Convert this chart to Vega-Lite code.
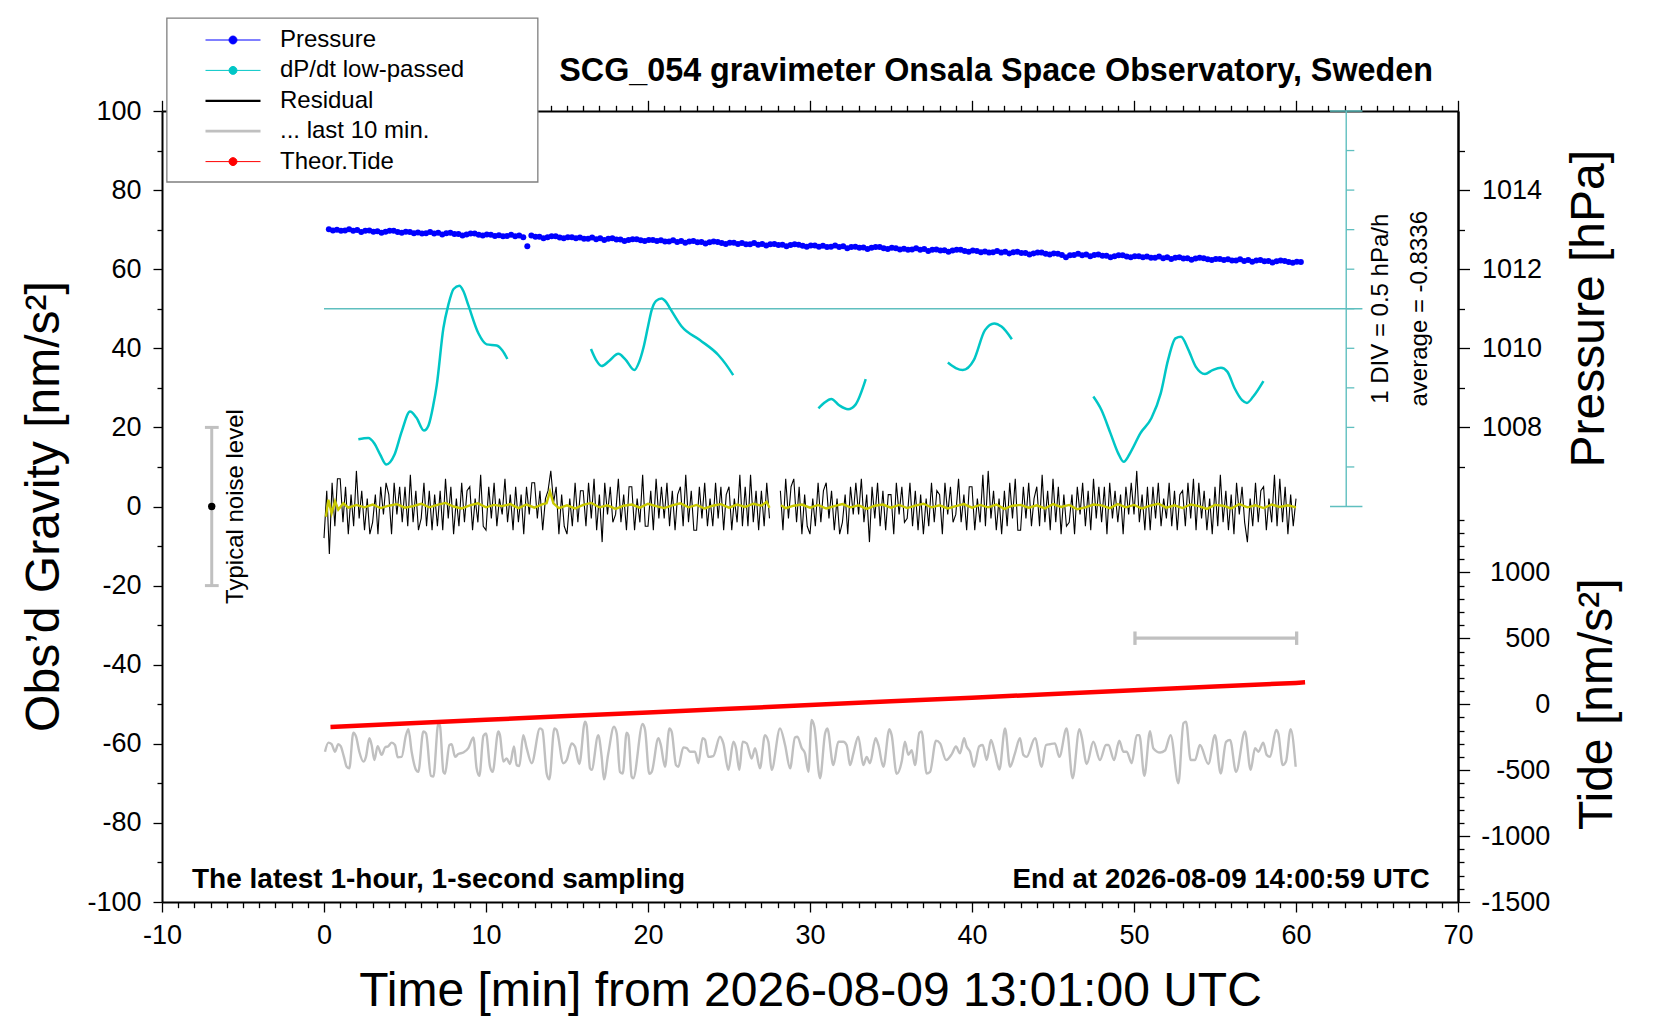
{
  "$schema": "https://vega.github.io/schema/vega-lite/v6.json",
  "width": 1296,
  "height": 791,
  "autosize": {"type": "none"},
  "padding": {"left": 162, "top": 111, "right": 202, "bottom": 118},
  "background": "white",
  "config": {
    "view": {"stroke": null},
    "font": "Liberation Sans",
    "axis": {
      "grid": false,
      "labelFont": "Liberation Sans",
      "labelFontSize": 27,
      "labelColor": "black",
      "titleFont": "Liberation Sans",
      "titleColor": "black",
      "titleFontWeight": "normal",
      "domainColor": "black",
      "domainWidth": 2,
      "tickColor": "black",
      "tickWidth": 1.3,
      "labelOverlap": false,
      "labelFlush": false,
      "labelBound": false
    }
  },
  "datasets": {
    "pressure": [
      {"t":0.3,"p":1013.01},{"t":0.55,"p":1012.98},{"t":0.8,"p":1013.00},{"t":1.05,"p":1012.97},
      {"t":1.3,"p":1012.98},{"t":1.55,"p":1013.01},{"t":1.8,"p":1012.97},{"t":2.05,"p":1012.99},
      {"t":2.3,"p":1012.94},{"t":2.55,"p":1012.97},{"t":2.8,"p":1012.98},{"t":3.05,"p":1012.95},
      {"t":3.3,"p":1012.96},{"t":3.55,"p":1012.92},{"t":3.8,"p":1012.95},{"t":4.05,"p":1012.97},
      {"t":4.3,"p":1012.97},{"t":4.55,"p":1012.94},{"t":4.8,"p":1012.92},{"t":5.05,"p":1012.95},
      {"t":5.3,"p":1012.94},{"t":5.55,"p":1012.91},{"t":5.8,"p":1012.93},{"t":6.05,"p":1012.90},
      {"t":6.3,"p":1012.91},{"t":6.55,"p":1012.94},{"t":6.8,"p":1012.90},{"t":7.05,"p":1012.92},
      {"t":7.3,"p":1012.88},{"t":7.55,"p":1012.91},{"t":7.8,"p":1012.92},{"t":8.05,"p":1012.89},
      {"t":8.3,"p":1012.89},{"t":8.55,"p":1012.85},{"t":8.8,"p":1012.88},{"t":9.05,"p":1012.90},
      {"t":9.3,"p":1012.90},{"t":9.55,"p":1012.87},{"t":9.8,"p":1012.85},{"t":10.05,"p":1012.88},
      {"t":10.3,"p":1012.87},{"t":10.55,"p":1012.84},{"t":10.8,"p":1012.86},{"t":11.05,"p":1012.83},
      {"t":11.3,"p":1012.84},{"t":11.55,"p":1012.87},{"t":11.8,"p":1012.83},{"t":12.05,"p":1012.85},
      {"t":12.3,"p":1012.81},{"t":12.55,"p":1012.58},{"t":12.8,"p":1012.85},{"t":13.05,"p":1012.82},
      {"t":13.3,"p":1012.82},{"t":13.55,"p":1012.78},{"t":13.8,"p":1012.81},{"t":14.05,"p":1012.83},
      {"t":14.3,"p":1012.83},{"t":14.55,"p":1012.80},{"t":14.8,"p":1012.78},{"t":15.05,"p":1012.81},
      {"t":15.3,"p":1012.81},{"t":15.55,"p":1012.78},{"t":15.8,"p":1012.80},{"t":16.05,"p":1012.77},
      {"t":16.3,"p":1012.77},{"t":16.55,"p":1012.80},{"t":16.8,"p":1012.76},{"t":17.05,"p":1012.78},
      {"t":17.3,"p":1012.74},{"t":17.55,"p":1012.77},{"t":17.8,"p":1012.78},{"t":18.05,"p":1012.75},
      {"t":18.3,"p":1012.75},{"t":18.55,"p":1012.71},{"t":18.8,"p":1012.74},{"t":19.05,"p":1012.76},
      {"t":19.3,"p":1012.76},{"t":19.55,"p":1012.73},{"t":19.8,"p":1012.71},{"t":20.05,"p":1012.74},
      {"t":20.3,"p":1012.74},{"t":20.55,"p":1012.71},{"t":20.8,"p":1012.73},{"t":21.05,"p":1012.70},
      {"t":21.3,"p":1012.70},{"t":21.55,"p":1012.73},{"t":21.8,"p":1012.69},{"t":22.05,"p":1012.71},
      {"t":22.3,"p":1012.67},{"t":22.55,"p":1012.70},{"t":22.8,"p":1012.71},{"t":23.05,"p":1012.68},
      {"t":23.3,"p":1012.69},{"t":23.55,"p":1012.65},{"t":23.8,"p":1012.68},{"t":24.05,"p":1012.70},
      {"t":24.3,"p":1012.69},{"t":24.55,"p":1012.66},{"t":24.8,"p":1012.64},{"t":25.05,"p":1012.67},
      {"t":25.3,"p":1012.67},{"t":25.55,"p":1012.64},{"t":25.8,"p":1012.66},{"t":26.05,"p":1012.63},
      {"t":26.3,"p":1012.63},{"t":26.55,"p":1012.66},{"t":26.8,"p":1012.62},{"t":27.05,"p":1012.64},
      {"t":27.3,"p":1012.60},{"t":27.55,"p":1012.63},{"t":27.8,"p":1012.64},{"t":28.05,"p":1012.61},
      {"t":28.3,"p":1012.62},{"t":28.55,"p":1012.58},{"t":28.8,"p":1012.61},{"t":29.05,"p":1012.63},
      {"t":29.3,"p":1012.62},{"t":29.55,"p":1012.59},{"t":29.8,"p":1012.57},{"t":30.05,"p":1012.60},
      {"t":30.3,"p":1012.60},{"t":30.55,"p":1012.57},{"t":30.8,"p":1012.59},{"t":31.05,"p":1012.56},
      {"t":31.3,"p":1012.57},{"t":31.55,"p":1012.60},{"t":31.8,"p":1012.56},{"t":32.05,"p":1012.58},
      {"t":32.3,"p":1012.53},{"t":32.55,"p":1012.56},{"t":32.8,"p":1012.57},{"t":33.05,"p":1012.54},
      {"t":33.3,"p":1012.55},{"t":33.55,"p":1012.51},{"t":33.8,"p":1012.54},{"t":34.05,"p":1012.56},
      {"t":34.3,"p":1012.56},{"t":34.55,"p":1012.53},{"t":34.8,"p":1012.51},{"t":35.05,"p":1012.54},
      {"t":35.3,"p":1012.53},{"t":35.55,"p":1012.50},{"t":35.8,"p":1012.52},{"t":36.05,"p":1012.49},
      {"t":36.3,"p":1012.50},{"t":36.55,"p":1012.53},{"t":36.8,"p":1012.49},{"t":37.05,"p":1012.51},
      {"t":37.3,"p":1012.46},{"t":37.55,"p":1012.49},{"t":37.8,"p":1012.50},{"t":38.05,"p":1012.47},
      {"t":38.3,"p":1012.48},{"t":38.55,"p":1012.44},{"t":38.8,"p":1012.47},{"t":39.05,"p":1012.49},
      {"t":39.3,"p":1012.49},{"t":39.55,"p":1012.46},{"t":39.8,"p":1012.44},{"t":40.05,"p":1012.47},
      {"t":40.3,"p":1012.46},{"t":40.55,"p":1012.43},{"t":40.8,"p":1012.45},{"t":41.05,"p":1012.42},
      {"t":41.3,"p":1012.43},{"t":41.55,"p":1012.46},{"t":41.8,"p":1012.42},{"t":42.05,"p":1012.44},
      {"t":42.3,"p":1012.40},{"t":42.55,"p":1012.43},{"t":42.8,"p":1012.44},{"t":43.05,"p":1012.41},
      {"t":43.3,"p":1012.41},{"t":43.55,"p":1012.37},{"t":43.8,"p":1012.40},{"t":44.05,"p":1012.42},
      {"t":44.3,"p":1012.42},{"t":44.55,"p":1012.39},{"t":44.8,"p":1012.37},{"t":45.05,"p":1012.40},
      {"t":45.3,"p":1012.39},{"t":45.55,"p":1012.36},{"t":45.8,"p":1012.30},{"t":46.05,"p":1012.35},
      {"t":46.3,"p":1012.36},{"t":46.55,"p":1012.39},{"t":46.8,"p":1012.35},{"t":47.05,"p":1012.37},
      {"t":47.3,"p":1012.33},{"t":47.55,"p":1012.36},{"t":47.8,"p":1012.37},{"t":48.05,"p":1012.34},
      {"t":48.3,"p":1012.34},{"t":48.55,"p":1012.30},{"t":48.8,"p":1012.33},{"t":49.05,"p":1012.35},
      {"t":49.3,"p":1012.35},{"t":49.55,"p":1012.32},{"t":49.8,"p":1012.30},{"t":50.05,"p":1012.33},
      {"t":50.3,"p":1012.33},{"t":50.55,"p":1012.30},{"t":50.8,"p":1012.32},{"t":51.05,"p":1012.29},
      {"t":51.3,"p":1012.29},{"t":51.55,"p":1012.32},{"t":51.8,"p":1012.28},{"t":52.05,"p":1012.30},
      {"t":52.3,"p":1012.26},{"t":52.55,"p":1012.29},{"t":52.8,"p":1012.30},{"t":53.05,"p":1012.27},
      {"t":53.3,"p":1012.28},{"t":53.55,"p":1012.24},{"t":53.8,"p":1012.27},{"t":54.05,"p":1012.29},
      {"t":54.3,"p":1012.28},{"t":54.55,"p":1012.25},{"t":54.8,"p":1012.23},{"t":55.05,"p":1012.26},
      {"t":55.3,"p":1012.26},{"t":55.55,"p":1012.23},{"t":55.8,"p":1012.25},{"t":56.05,"p":1012.22},
      {"t":56.3,"p":1012.22},{"t":56.55,"p":1012.25},{"t":56.8,"p":1012.21},{"t":57.05,"p":1012.23},
      {"t":57.3,"p":1012.19},{"t":57.55,"p":1012.22},{"t":57.8,"p":1012.23},{"t":58.05,"p":1012.20},
      {"t":58.3,"p":1012.21},{"t":58.55,"p":1012.17},{"t":58.8,"p":1012.20},{"t":59.05,"p":1012.22},
      {"t":59.3,"p":1012.21},{"t":59.55,"p":1012.18},{"t":59.8,"p":1012.16},{"t":60.05,"p":1012.19},
      {"t":60.3,"p":1012.18}
    ],
    "tide": [
      {"t":0.4,"tide":-172},{"t":5,"tide":-146},{"t":10,"tide":-118},{"t":15,"tide":-90},
      {"t":20,"tide":-62},{"t":25,"tide":-34},{"t":30,"tide":-6},{"t":35,"tide":22},
      {"t":40,"tide":50},{"t":45,"tide":78},{"t":50,"tide":106},{"t":55,"tide":134},
      {"t":60,"tide":162},{"t":60.56,"tide":166}
    ],
    "residual": [
      {"t":0,"g":-8,"seg":1},{"t":0.17,"g":4,"seg":1},{"t":0.33,"g":-12,"seg":1},{"t":0.5,"g":6,"seg":1},{"t":0.67,"g":-5,"seg":1},{"t":0.83,"g":7,"seg":1},
      {"t":1,"g":7,"seg":1},{"t":1.17,"g":-4,"seg":1},{"t":1.33,"g":5,"seg":1},{"t":1.5,"g":-7,"seg":1},{"t":1.67,"g":3,"seg":1},{"t":1.83,"g":-5,"seg":1},
      {"t":2,"g":9,"seg":1},{"t":2.17,"g":-3,"seg":1},{"t":2.33,"g":4,"seg":1},{"t":2.5,"g":-6,"seg":1},{"t":2.67,"g":2,"seg":1},{"t":2.83,"g":-7,"seg":1},
      {"t":3,"g":-4,"seg":1},{"t":3.17,"g":3,"seg":1},{"t":3.33,"g":-7,"seg":1},{"t":3.5,"g":5,"seg":1},{"t":3.67,"g":-2,"seg":1},{"t":3.83,"g":6,"seg":1},
      {"t":4,"g":3,"seg":1},{"t":4.17,"g":-7,"seg":1},{"t":4.33,"g":6,"seg":1},{"t":4.5,"g":-2,"seg":1},{"t":4.67,"g":5,"seg":1},{"t":4.83,"g":-4,"seg":1},
      {"t":5,"g":5,"seg":1},{"t":5.17,"g":-5,"seg":1},{"t":5.33,"g":8,"seg":1},{"t":5.5,"g":-4,"seg":1},{"t":5.67,"g":4,"seg":1},{"t":5.83,"g":-6,"seg":1},
      {"t":6,"g":-3,"seg":1},{"t":6.17,"g":6,"seg":1},{"t":6.33,"g":-5,"seg":1},{"t":6.5,"g":4,"seg":1},{"t":6.67,"g":-6,"seg":1},{"t":6.83,"g":3,"seg":1},
      {"t":7,"g":-5,"seg":1},{"t":7.17,"g":4,"seg":1},{"t":7.33,"g":-6,"seg":1},{"t":7.5,"g":7,"seg":1},{"t":7.67,"g":-3,"seg":1},{"t":7.83,"g":5,"seg":1},
      {"t":8,"g":-7,"seg":1},{"t":8.17,"g":2,"seg":1},{"t":8.33,"g":-5,"seg":1},{"t":8.5,"g":6,"seg":1},{"t":8.67,"g":-4,"seg":1},{"t":8.83,"g":4,"seg":1},
      {"t":9,"g":5,"seg":1},{"t":9.17,"g":-6,"seg":1},{"t":9.33,"g":2,"seg":1},{"t":9.5,"g":-4,"seg":1},{"t":9.67,"g":8,"seg":1},{"t":9.83,"g":-5,"seg":1},
      {"t":10,"g":-6,"seg":1},{"t":10.17,"g":5,"seg":1},{"t":10.33,"g":-3,"seg":1},{"t":10.5,"g":6,"seg":1},{"t":10.67,"g":-5,"seg":1},{"t":10.83,"g":2,"seg":1},
      {"t":11,"g":-2,"seg":1},{"t":11.17,"g":7,"seg":1},{"t":11.33,"g":-4,"seg":1},{"t":11.5,"g":3,"seg":1},{"t":11.67,"g":-6,"seg":1},{"t":11.83,"g":5,"seg":1},
      {"t":12,"g":-4,"seg":1},{"t":12.17,"g":3,"seg":1},{"t":12.33,"g":-7,"seg":1},{"t":12.5,"g":5,"seg":1},{"t":12.67,"g":-2,"seg":1},{"t":12.83,"g":6,"seg":1},
      {"t":13,"g":6,"seg":1},{"t":13.17,"g":-3,"seg":1},{"t":13.33,"g":4,"seg":1},{"t":13.5,"g":-6,"seg":1},{"t":13.67,"g":2,"seg":1},{"t":13.83,"g":4,"seg":1},
      {"t":14,"g":9,"seg":1},{"t":14.17,"g":1,"seg":1},{"t":14.33,"g":5,"seg":1},{"t":14.5,"g":-7,"seg":1},{"t":14.67,"g":3,"seg":1},{"t":14.83,"g":-5,"seg":1},
      {"t":15,"g":-7,"seg":1},{"t":15.17,"g":2,"seg":1},{"t":15.33,"g":-5,"seg":1},{"t":15.5,"g":6,"seg":1},{"t":15.67,"g":-4,"seg":1},{"t":15.83,"g":4,"seg":1},
      {"t":16,"g":4,"seg":1},{"t":16.17,"g":-5,"seg":1},{"t":16.33,"g":6,"seg":1},{"t":16.5,"g":-3,"seg":1},{"t":16.67,"g":7,"seg":1},{"t":16.83,"g":-6,"seg":1},
      {"t":17,"g":3,"seg":1},{"t":17.17,"g":-9,"seg":1},{"t":17.33,"g":6,"seg":1},{"t":17.5,"g":-2,"seg":1},{"t":17.67,"g":5,"seg":1},{"t":17.83,"g":-4,"seg":1},
      {"t":18,"g":-2,"seg":1},{"t":18.17,"g":7,"seg":1},{"t":18.33,"g":-4,"seg":1},{"t":18.5,"g":3,"seg":1},{"t":18.67,"g":-6,"seg":1},{"t":18.83,"g":5,"seg":1},
      {"t":19,"g":5,"seg":1},{"t":19.17,"g":-6,"seg":1},{"t":19.33,"g":2,"seg":1},{"t":19.5,"g":-4,"seg":1},{"t":19.67,"g":8,"seg":1},{"t":19.83,"g":-5,"seg":1},
      {"t":20,"g":-5,"seg":1},{"t":20.17,"g":4,"seg":1},{"t":20.33,"g":-6,"seg":1},{"t":20.5,"g":7,"seg":1},{"t":20.67,"g":-3,"seg":1},{"t":20.83,"g":5,"seg":1},
      {"t":21,"g":-3,"seg":1},{"t":21.17,"g":6,"seg":1},{"t":21.33,"g":-5,"seg":1},{"t":21.5,"g":4,"seg":1},{"t":21.67,"g":-6,"seg":1},{"t":21.83,"g":3,"seg":1},
      {"t":22,"g":5,"seg":1},{"t":22.17,"g":-5,"seg":1},{"t":22.33,"g":8,"seg":1},{"t":22.5,"g":-4,"seg":1},{"t":22.67,"g":4,"seg":1},{"t":22.83,"g":-6,"seg":1},
      {"t":23,"g":-6,"seg":1},{"t":23.17,"g":5,"seg":1},{"t":23.33,"g":-3,"seg":1},{"t":23.5,"g":6,"seg":1},{"t":23.67,"g":-5,"seg":1},{"t":23.83,"g":2,"seg":1},
      {"t":24,"g":-5,"seg":1},{"t":24.17,"g":6,"seg":1},{"t":24.33,"g":-3,"seg":1},{"t":24.5,"g":5,"seg":1},{"t":24.67,"g":-6,"seg":1},{"t":24.83,"g":3,"seg":1},
      {"t":25,"g":5,"seg":1},{"t":25.17,"g":-6,"seg":1},{"t":25.33,"g":2,"seg":1},{"t":25.5,"g":-4,"seg":1},{"t":25.67,"g":8,"seg":1},{"t":25.83,"g":-5,"seg":1},
      {"t":26,"g":5,"seg":1},{"t":26.17,"g":-5,"seg":1},{"t":26.33,"g":8,"seg":1},{"t":26.5,"g":-4,"seg":1},{"t":26.67,"g":4,"seg":1},{"t":26.83,"g":-6,"seg":1},
      {"t":27,"g":4,"seg":1},{"t":27.17,"g":-5,"seg":1},{"t":27.33,"g":6,"seg":1},{"t":27.5,"g":-3,"seg":1},
      {"t":28.17,"g":4,"seg":2},{"t":28.33,"g":-6,"seg":2},{"t":28.5,"g":7,"seg":2},{"t":28.67,"g":-3,"seg":2},{"t":28.83,"g":5,"seg":2},
      {"t":29,"g":7,"seg":2},{"t":29.17,"g":-4,"seg":2},{"t":29.33,"g":5,"seg":2},{"t":29.5,"g":-7,"seg":2},{"t":29.67,"g":3,"seg":2},{"t":29.83,"g":-5,"seg":2},
      {"t":30,"g":-7,"seg":2},{"t":30.17,"g":2,"seg":2},{"t":30.33,"g":-5,"seg":2},{"t":30.5,"g":6,"seg":2},{"t":30.67,"g":-4,"seg":2},{"t":30.83,"g":4,"seg":2},
      {"t":31,"g":6,"seg":2},{"t":31.17,"g":-3,"seg":2},{"t":31.33,"g":4,"seg":2},{"t":31.5,"g":-6,"seg":2},{"t":31.67,"g":2,"seg":2},{"t":31.83,"g":-7,"seg":2},
      {"t":32,"g":-4,"seg":2},{"t":32.17,"g":3,"seg":2},{"t":32.33,"g":-7,"seg":2},{"t":32.5,"g":5,"seg":2},{"t":32.67,"g":-2,"seg":2},{"t":32.83,"g":6,"seg":2},
      {"t":33,"g":-2,"seg":2},{"t":33.17,"g":7,"seg":2},{"t":33.33,"g":-4,"seg":2},{"t":33.5,"g":3,"seg":2},{"t":33.67,"g":-9,"seg":2},{"t":33.83,"g":5,"seg":2},
      {"t":34,"g":-3,"seg":2},{"t":34.17,"g":6,"seg":2},{"t":34.33,"g":-5,"seg":2},{"t":34.5,"g":4,"seg":2},{"t":34.67,"g":-6,"seg":2},{"t":34.83,"g":3,"seg":2},
      {"t":35,"g":3,"seg":2},{"t":35.17,"g":-7,"seg":2},{"t":35.33,"g":6,"seg":2},{"t":35.5,"g":-2,"seg":2},{"t":35.67,"g":5,"seg":2},{"t":35.83,"g":-4,"seg":2},
      {"t":36,"g":-3,"seg":2},{"t":36.17,"g":6,"seg":2},{"t":36.33,"g":-5,"seg":2},{"t":36.5,"g":4,"seg":2},{"t":36.67,"g":-6,"seg":2},{"t":36.83,"g":3,"seg":2},
      {"t":37,"g":-7,"seg":2},{"t":37.17,"g":2,"seg":2},{"t":37.33,"g":-5,"seg":2},{"t":37.5,"g":6,"seg":2},{"t":37.67,"g":-4,"seg":2},{"t":37.83,"g":4,"seg":2},
      {"t":38,"g":3,"seg":2},{"t":38.17,"g":-7,"seg":2},{"t":38.33,"g":6,"seg":2},{"t":38.5,"g":-2,"seg":2},{"t":38.67,"g":5,"seg":2},{"t":38.83,"g":-4,"seg":2},
      {"t":39,"g":-2,"seg":2},{"t":39.17,"g":7,"seg":2},{"t":39.33,"g":-4,"seg":2},{"t":39.5,"g":3,"seg":2},{"t":39.67,"g":-6,"seg":2},{"t":39.83,"g":5,"seg":2},
      {"t":40,"g":5,"seg":2},{"t":40.17,"g":-6,"seg":2},{"t":40.33,"g":2,"seg":2},{"t":40.5,"g":-4,"seg":2},{"t":40.67,"g":8,"seg":2},{"t":40.83,"g":-5,"seg":2},
      {"t":41,"g":9,"seg":2},{"t":41.17,"g":-3,"seg":2},{"t":41.33,"g":4,"seg":2},{"t":41.5,"g":-6,"seg":2},{"t":41.67,"g":2,"seg":2},{"t":41.83,"g":-7,"seg":2},
      {"t":42,"g":4,"seg":2},{"t":42.17,"g":-5,"seg":2},{"t":42.33,"g":6,"seg":2},{"t":42.5,"g":-3,"seg":2},{"t":42.67,"g":7,"seg":2},{"t":42.83,"g":-6,"seg":2},
      {"t":43,"g":-6,"seg":2},{"t":43.17,"g":5,"seg":2},{"t":43.33,"g":-3,"seg":2},{"t":43.5,"g":6,"seg":2},{"t":43.67,"g":-5,"seg":2},{"t":43.83,"g":2,"seg":2},
      {"t":44,"g":5,"seg":2},{"t":44.17,"g":-5,"seg":2},{"t":44.33,"g":8,"seg":2},{"t":44.5,"g":-4,"seg":2},{"t":44.67,"g":4,"seg":2},{"t":44.83,"g":-6,"seg":2},
      {"t":45,"g":7,"seg":2},{"t":45.17,"g":-4,"seg":2},{"t":45.33,"g":5,"seg":2},{"t":45.5,"g":-7,"seg":2},{"t":45.67,"g":3,"seg":2},{"t":45.83,"g":-5,"seg":2},
      {"t":46,"g":-4,"seg":2},{"t":46.17,"g":3,"seg":2},{"t":46.33,"g":-7,"seg":2},{"t":46.5,"g":5,"seg":2},{"t":46.67,"g":-2,"seg":2},{"t":46.83,"g":6,"seg":2},
      {"t":47,"g":-5,"seg":2},{"t":47.17,"g":4,"seg":2},{"t":47.33,"g":-6,"seg":2},{"t":47.5,"g":7,"seg":2},{"t":47.67,"g":-3,"seg":2},{"t":47.83,"g":5,"seg":2},
      {"t":48,"g":-4,"seg":2},{"t":48.17,"g":5,"seg":2},{"t":48.33,"g":-7,"seg":2},{"t":48.5,"g":6,"seg":2},{"t":48.67,"g":-3,"seg":2},{"t":48.83,"g":4,"seg":2},
      {"t":49,"g":-4,"seg":2},{"t":49.17,"g":3,"seg":2},{"t":49.33,"g":-7,"seg":2},{"t":49.5,"g":5,"seg":2},{"t":49.67,"g":-2,"seg":2},{"t":49.83,"g":6,"seg":2},
      {"t":50,"g":-2,"seg":2},{"t":50.17,"g":9,"seg":2},{"t":50.33,"g":-4,"seg":2},{"t":50.5,"g":3,"seg":2},{"t":50.67,"g":-6,"seg":2},{"t":50.83,"g":5,"seg":2},
      {"t":51,"g":-6,"seg":2},{"t":51.17,"g":5,"seg":2},{"t":51.33,"g":-3,"seg":2},{"t":51.5,"g":6,"seg":2},{"t":51.67,"g":-5,"seg":2},{"t":51.83,"g":2,"seg":2},
      {"t":52,"g":-3,"seg":2},{"t":52.17,"g":6,"seg":2},{"t":52.33,"g":-5,"seg":2},{"t":52.5,"g":4,"seg":2},{"t":52.67,"g":-6,"seg":2},{"t":52.83,"g":3,"seg":2},
      {"t":53,"g":4,"seg":2},{"t":53.17,"g":-5,"seg":2},{"t":53.33,"g":6,"seg":2},{"t":53.5,"g":-3,"seg":2},{"t":53.67,"g":7,"seg":2},{"t":53.83,"g":-6,"seg":2},
      {"t":54,"g":6,"seg":2},{"t":54.17,"g":-3,"seg":2},{"t":54.33,"g":4,"seg":2},{"t":54.5,"g":-6,"seg":2},{"t":54.67,"g":2,"seg":2},{"t":54.83,"g":-7,"seg":2},
      {"t":55,"g":5,"seg":2},{"t":55.17,"g":-5,"seg":2},{"t":55.33,"g":8,"seg":2},{"t":55.5,"g":-4,"seg":2},{"t":55.67,"g":4,"seg":2},{"t":55.83,"g":-6,"seg":2},
      {"t":56,"g":3,"seg":2},{"t":56.17,"g":-7,"seg":2},{"t":56.33,"g":6,"seg":2},{"t":56.5,"g":-2,"seg":2},{"t":56.67,"g":5,"seg":2},{"t":56.83,"g":-4,"seg":2},
      {"t":57,"g":-9,"seg":2},{"t":57.17,"g":2,"seg":2},{"t":57.33,"g":-5,"seg":2},{"t":57.5,"g":6,"seg":2},{"t":57.67,"g":-4,"seg":2},{"t":57.83,"g":4,"seg":2},
      {"t":58,"g":5,"seg":2},{"t":58.17,"g":-6,"seg":2},{"t":58.33,"g":2,"seg":2},{"t":58.5,"g":-4,"seg":2},{"t":58.67,"g":8,"seg":2},{"t":58.83,"g":-5,"seg":2},
      {"t":59,"g":7,"seg":2},{"t":59.17,"g":-4,"seg":2},{"t":59.33,"g":5,"seg":2},{"t":59.5,"g":-7,"seg":2},{"t":59.67,"g":3,"seg":2},{"t":59.83,"g":-5,"seg":2},
      {"t":60,"g":2,"seg":2}
    ],
    "smooth": [
      {"t":0.12,"g":-2.6,"seg":1},{"t":0.27,"g":1.7,"seg":1},{"t":0.47,"g":-1.7,"seg":1},{"t":0.68,"g":1.3,"seg":1},{"t":0.88,"g":-0.8,"seg":1},{"t":1.19,"g":0.8,"seg":1},
      {"t":1.5,"g":-0.3,"seg":1},{"t":2,"g":0.4,"seg":1},{"t":2.5,"g":-0.2,"seg":1},{"t":3,"g":0.5,"seg":1},{"t":3.5,"g":-0.4,"seg":1},{"t":4,"g":0.2,"seg":1},
      {"t":4.5,"g":0.6,"seg":1},{"t":5,"g":-0.3,"seg":1},{"t":5.5,"g":0.1,"seg":1},{"t":6,"g":0.7,"seg":1},{"t":6.5,"g":-0.2,"seg":1},{"t":7,"g":0.4,"seg":1},
      {"t":7.5,"g":0.9,"seg":1},{"t":8,"g":0,"seg":1},{"t":8.5,"g":-0.5,"seg":1},{"t":9,"g":0.3,"seg":1},{"t":9.5,"g":0.8,"seg":1},{"t":10,"g":-0.2,"seg":1},
      {"t":10.5,"g":0.4,"seg":1},{"t":11,"g":0.1,"seg":1},{"t":11.5,"g":0.6,"seg":1},{"t":12,"g":-0.4,"seg":1},{"t":12.5,"g":0.5,"seg":1},{"t":13,"g":-0.3,"seg":1},
      {"t":13.5,"g":0.6,"seg":1},{"t":13.74,"g":0.8,"seg":1},{"t":13.95,"g":3.8,"seg":1},{"t":14.16,"g":0.8,"seg":1},{"t":14.5,"g":-0.4,"seg":1},{"t":15,"g":0.3,"seg":1},
      {"t":15.5,"g":-0.5,"seg":1},{"t":16,"g":0.4,"seg":1},{"t":16.5,"g":0.9,"seg":1},{"t":17,"g":-0.2,"seg":1},{"t":17.5,"g":0.3,"seg":1},{"t":18,"g":-0.6,"seg":1},
      {"t":18.5,"g":0.2,"seg":1},{"t":19,"g":0.5,"seg":1},{"t":19.5,"g":-0.3,"seg":1},{"t":20,"g":0.7,"seg":1},{"t":20.5,"g":0.1,"seg":1},{"t":21,"g":-0.4,"seg":1},
      {"t":21.5,"g":0.3,"seg":1},{"t":22,"g":0.8,"seg":1},{"t":22.5,"g":-0.2,"seg":1},{"t":23,"g":0.4,"seg":1},{"t":23.5,"g":-0.5,"seg":1},{"t":24,"g":0.2,"seg":1},
      {"t":24.5,"g":0.6,"seg":1},{"t":25,"g":-0.3,"seg":1},{"t":25.5,"g":0.5,"seg":1},{"t":26,"g":-0.1,"seg":1},{"t":26.5,"g":0.7,"seg":1},{"t":27,"g":0.2,"seg":1},
      {"t":27.32,"g":1.2,"seg":1},{"t":27.5,"g":-0.3,"seg":1},
      {"t":28.2,"g":0.3,"seg":2},{"t":28.5,"g":-0.4,"seg":2},{"t":29,"g":0.2,"seg":2},{"t":29.5,"g":0.5,"seg":2},{"t":30,"g":-0.3,"seg":2},{"t":30.5,"g":0.4,"seg":2},
      {"t":31,"g":-0.5,"seg":2},{"t":31.5,"g":0.1,"seg":2},{"t":32,"g":0.6,"seg":2},{"t":32.5,"g":-0.2,"seg":2},{"t":33,"g":0.3,"seg":2},{"t":33.5,"g":-0.6,"seg":2},
      {"t":34,"g":0.2,"seg":2},{"t":34.5,"g":0.5,"seg":2},{"t":35,"g":-0.3,"seg":2},{"t":35.5,"g":0.4,"seg":2},{"t":36,"g":-0.4,"seg":2},{"t":36.5,"g":0.2,"seg":2},
      {"t":37,"g":0.7,"seg":2},{"t":37.5,"g":-0.2,"seg":2},{"t":38,"g":0.3,"seg":2},{"t":38.5,"g":-0.5,"seg":2},{"t":39,"g":0.1,"seg":2},{"t":39.5,"g":0.6,"seg":2},
      {"t":40,"g":-0.3,"seg":2},{"t":40.5,"g":0.4,"seg":2},{"t":41,"g":-0.2,"seg":2},{"t":41.5,"g":0.5,"seg":2},{"t":42,"g":-0.6,"seg":2},{"t":42.5,"g":0.2,"seg":2},
      {"t":43,"g":0.4,"seg":2},{"t":43.5,"g":-0.3,"seg":2},{"t":44,"g":0.3,"seg":2},{"t":44.5,"g":-0.5,"seg":2},{"t":45,"g":0.6,"seg":2},{"t":45.5,"g":-0.1,"seg":2},
      {"t":46,"g":0.4,"seg":2},{"t":46.5,"g":-0.7,"seg":2},{"t":47,"g":-0.2,"seg":2},{"t":47.5,"g":0.5,"seg":2},{"t":48,"g":0.3,"seg":2},{"t":48.5,"g":-0.4,"seg":2},
      {"t":49,"g":0.6,"seg":2},{"t":49.5,"g":-0.2,"seg":2},{"t":50,"g":0.4,"seg":2},{"t":50.5,"g":-0.5,"seg":2},{"t":51,"g":0.2,"seg":2},{"t":51.5,"g":0.7,"seg":2},
      {"t":52,"g":-0.3,"seg":2},{"t":52.5,"g":0.3,"seg":2},{"t":53,"g":-0.4,"seg":2},{"t":53.5,"g":0.5,"seg":2},{"t":54,"g":0.1,"seg":2},{"t":54.5,"g":-0.6,"seg":2},
      {"t":55,"g":0.4,"seg":2},{"t":55.5,"g":0.2,"seg":2},{"t":56,"g":-0.5,"seg":2},{"t":56.5,"g":0.6,"seg":2},{"t":57,"g":-0.2,"seg":2},{"t":57.5,"g":0.3,"seg":2},
      {"t":58,"g":-0.4,"seg":2},{"t":58.5,"g":0.5,"seg":2},{"t":59,"g":-0.1,"seg":2},{"t":59.5,"g":0.3,"seg":2},{"t":60,"g":-0.2,"seg":2}
    ],
    "dpdt": [
      {"t":2.12,"g":17.0,"seg":1},{"t":2.73,"g":17.3,"seg":1},{"t":3.1,"g":16.0,"seg":1},{"t":3.46,"g":13.2,"seg":1},{"t":3.85,"g":10.6,"seg":1},{"t":4.34,"g":13.0,"seg":1},
      {"t":4.8,"g":19.0,"seg":1},{"t":5.31,"g":24.0,"seg":1},{"t":5.7,"g":22.5,"seg":1},{"t":6.17,"g":19.2,"seg":1},{"t":6.45,"g":20.5,"seg":1},{"t":6.75,"g":25.7,"seg":1},
      {"t":6.96,"g":30.7,"seg":1},{"t":7.37,"g":45.1,"seg":1},{"t":7.67,"g":50.9,"seg":1},{"t":8.0,"g":55.0,"seg":1},{"t":8.35,"g":55.8,"seg":1},{"t":8.6,"g":54.5,"seg":1},
      {"t":8.91,"g":50.9,"seg":1},{"t":9.53,"g":43.8,"seg":1},{"t":10.04,"g":41.0,"seg":1},{"t":10.66,"g":40.7,"seg":1},{"t":11.0,"g":39.5,"seg":1},{"t":11.32,"g":37.3,"seg":1},
      {"t":16.48,"g":39.8,"seg":2},{"t":16.8,"g":37.0,"seg":2},{"t":17.14,"g":35.5,"seg":2},{"t":17.6,"g":36.8,"seg":2},{"t":18.17,"g":38.6,"seg":2},{"t":18.6,"g":37.2,"seg":2},
      {"t":19.16,"g":34.5,"seg":2},{"t":19.45,"g":36.5,"seg":2},{"t":19.71,"g":40.0,"seg":2},{"t":20.0,"g":45.5,"seg":2},{"t":20.23,"g":49.7,"seg":2},{"t":20.5,"g":52.0,"seg":2},
      {"t":20.84,"g":52.6,"seg":2},{"t":21.1,"g":51.8,"seg":2},{"t":21.36,"g":50.1,"seg":2},{"t":22.08,"g":45.5,"seg":2},{"t":23.2,"g":42.1,"seg":2},{"t":24.34,"g":38.3,"seg":2},
      {"t":24.8,"g":36.0,"seg":2},{"t":25.26,"g":33.2,"seg":2},
      {"t":30.52,"g":24.8,"seg":3},{"t":30.9,"g":26.3,"seg":3},{"t":31.32,"g":27.2,"seg":3},{"t":31.8,"g":25.6,"seg":3},{"t":32.35,"g":24.6,"seg":3},{"t":32.8,"g":25.7,"seg":3},
      {"t":33.44,"g":32.2,"seg":3},
      {"t":38.51,"g":36.4,"seg":4},{"t":39.0,"g":35.0,"seg":4},{"t":39.43,"g":34.5,"seg":4},{"t":40.11,"g":37.0,"seg":4},{"t":40.8,"g":44.6,"seg":4},{"t":41.37,"g":46.3,"seg":4},
      {"t":41.82,"g":45.5,"seg":4},{"t":42.46,"g":42.3,"seg":4},
      {"t":47.49,"g":27.8,"seg":5},{"t":47.99,"g":24.4,"seg":5},{"t":48.55,"g":18.5,"seg":5},{"t":49.02,"g":13.5,"seg":5},{"t":49.36,"g":11.3,"seg":5},{"t":49.81,"g":13.9,"seg":5},
      {"t":50.39,"g":18.5,"seg":5},{"t":51.07,"g":22.3,"seg":5},{"t":51.65,"g":28.6,"seg":5},{"t":52.1,"g":37.0,"seg":5},{"t":52.56,"g":42.5,"seg":5},{"t":52.9,"g":42.9,"seg":5},
      {"t":53.36,"g":39.6,"seg":5},{"t":53.82,"g":35.3,"seg":5},{"t":54.38,"g":33.5,"seg":5},{"t":54.85,"g":34.5,"seg":5},{"t":55.37,"g":35.1,"seg":5},{"t":55.76,"g":34.1,"seg":5},
      {"t":56.21,"g":29.9,"seg":5},{"t":56.67,"g":26.9,"seg":5},{"t":56.97,"g":26.2,"seg":5},{"t":57.36,"g":27.8,"seg":5},{"t":57.99,"g":31.7,"seg":5}
    ],
    "last10": [
      {"t":0.06,"g":-62.0},{"t":0.27,"g":-59.7},{"t":0.47,"g":-60.1},{"t":0.68,"g":-62.0},{"t":0.88,"g":-60.1},{"t":1.03,"g":-60.6},
      {"t":1.23,"g":-63.3},{"t":1.4,"g":-65.8},{"t":1.56,"g":-66.2},{"t":1.81,"g":-57.2},{"t":1.98,"g":-58.2},{"t":2.18,"g":-62.0},
      {"t":2.43,"g":-64.5},{"t":2.59,"g":-63.3},{"t":2.8,"g":-58.6},{"t":2.94,"g":-60.3},{"t":3.11,"g":-64.1},{"t":3.31,"g":-60.6},
      {"t":3.56,"g":-62.8},{"t":3.77,"g":-60.9},{"t":3.97,"g":-60.6},{"t":4.18,"g":-59.7},{"t":4.38,"g":-60.3},{"t":4.55,"g":-63.4},
      {"t":4.79,"g":-63.3},{"t":5.06,"g":-57.8},{"t":5.21,"g":-56.3},{"t":5.41,"g":-62.0},{"t":5.68,"g":-66.6},{"t":5.82,"g":-67.1},
      {"t":6.13,"g":-56.9},{"t":6.3,"g":-57.4},{"t":6.6,"g":-68.1},{"t":6.75,"g":-68.3},{"t":7.06,"g":-54.8},{"t":7.16,"g":-55.5},
      {"t":7.37,"g":-67.1},{"t":7.47,"g":-67.6},{"t":7.74,"g":-60.3},{"t":7.88,"g":-60.1},{"t":8.09,"g":-63.3},{"t":8.29,"g":-62.6},
      {"t":8.6,"g":-62.2},{"t":8.91,"g":-61.1},{"t":9.22,"g":-58.4},{"t":9.42,"g":-66.2},{"t":9.59,"g":-68.1},{"t":9.84,"g":-58.0},
      {"t":10.0,"g":-57.4},{"t":10.25,"g":-65.8},{"t":10.41,"g":-67.1},{"t":10.76,"g":-56.9},{"t":10.86,"g":-57.8},{"t":11.07,"g":-64.5},
      {"t":11.28,"g":-63.7},{"t":11.48,"g":-65.1},{"t":11.73,"g":-60.7},{"t":11.89,"g":-65.4},{"t":12.06,"g":-65.6},{"t":12.3,"g":-57.8},
      {"t":12.51,"g":-61.1},{"t":12.82,"g":-64.9},{"t":13.33,"g":-56.1},{"t":13.48,"g":-56.5},{"t":13.75,"g":-67.6},{"t":13.91,"g":-69.0},
      {"t":14.22,"g":-56.1},{"t":14.36,"g":-56.5},{"t":14.77,"g":-64.9},{"t":14.98,"g":-64.1},{"t":15.29,"g":-59.9},{"t":15.49,"g":-60.7},
      {"t":15.76,"g":-65.1},{"t":16.11,"g":-54.4},{"t":16.21,"g":-55.3},{"t":16.42,"g":-66.2},{"t":16.52,"g":-66.6},{"t":16.93,"g":-57.8},
      {"t":17.14,"g":-63.3},{"t":17.28,"g":-69.0},{"t":17.55,"g":-62.4},{"t":17.9,"g":-55.7},{"t":18.07,"g":-57.4},{"t":18.27,"g":-67.1},
      {"t":18.44,"g":-67.5},{"t":18.68,"g":-57.2},{"t":18.79,"g":-57.8},{"t":18.99,"g":-68.3},{"t":19.09,"g":-68.7},{"t":19.67,"g":-55.0},
      {"t":19.82,"g":-56.5},{"t":20.08,"g":-67.6},{"t":20.23,"g":-67.1},{"t":20.64,"g":-58.6},{"t":20.78,"g":-60.1},{"t":21.05,"g":-65.8},
      {"t":21.32,"g":-56.1},{"t":21.46,"g":-56.9},{"t":21.73,"g":-65.4},{"t":21.87,"g":-65.8},{"t":22.18,"g":-60.9},{"t":22.39,"g":-61.1},
      {"t":22.59,"g":-62.0},{"t":22.9,"g":-62.0},{"t":23.11,"g":-64.9},{"t":23.37,"g":-58.6},{"t":23.52,"g":-59.0},{"t":23.72,"g":-63.3},
      {"t":24.03,"g":-63.1},{"t":24.44,"g":-58.2},{"t":24.65,"g":-59.9},{"t":24.96,"g":-66.6},{"t":25.27,"g":-59.5},{"t":25.43,"g":-61.1},
      {"t":25.64,"g":-66.6},{"t":25.84,"g":-59.5},{"t":26.09,"g":-59.9},{"t":26.4,"g":-63.7},{"t":26.61,"g":-61.1},{"t":26.91,"g":-66.2},
      {"t":27.22,"g":-57.8},{"t":27.43,"g":-59.5},{"t":27.63,"g":-66.6},{"t":28.15,"g":-56.1},{"t":28.46,"g":-60.3},{"t":28.77,"g":-66.2},
      {"t":29.07,"g":-58.4},{"t":29.22,"g":-58.2},{"t":29.49,"g":-61.1},{"t":29.69,"g":-62.4},{"t":29.9,"g":-67.1},{"t":30.1,"g":-54.0},
      {"t":30.27,"g":-55.7},{"t":30.62,"g":-68.7},{"t":30.93,"g":-57.4},{"t":31.07,"g":-56.1},{"t":31.44,"g":-65.4},{"t":31.75,"g":-59.5},
      {"t":32.06,"g":-59.5},{"t":32.26,"g":-60.3},{"t":32.47,"g":-65.4},{"t":32.68,"g":-62.4},{"t":32.98,"g":-58.2},{"t":33.29,"g":-65.4},
      {"t":33.5,"g":-63.3},{"t":33.7,"g":-64.9},{"t":34.05,"g":-58.6},{"t":34.22,"g":-60.3},{"t":34.53,"g":-65.8},{"t":34.9,"g":-56.3},
      {"t":35.04,"g":-57.8},{"t":35.35,"g":-67.6},{"t":35.66,"g":-64.5},{"t":35.86,"g":-59.5},{"t":36.07,"g":-62.8},{"t":36.28,"g":-61.6},
      {"t":36.48,"g":-65.4},{"t":36.75,"g":-57.2},{"t":36.89,"g":-56.9},{"t":37.2,"g":-67.5},{"t":37.41,"g":-67.1},{"t":37.78,"g":-59.2},
      {"t":38.03,"g":-59.9},{"t":38.4,"g":-64.1},{"t":38.75,"g":-62.6},{"t":39.01,"g":-60.7},{"t":39.26,"g":-62.4},{"t":39.51,"g":-58.6},
      {"t":39.67,"g":-60.7},{"t":39.88,"g":-62.0},{"t":40.12,"g":-65.8},{"t":40.45,"g":-60.6},{"t":40.66,"g":-60.3},{"t":40.91,"g":-64.1},
      {"t":41.17,"g":-59.0},{"t":41.42,"g":-62.4},{"t":41.69,"g":-66.5},{"t":42.04,"g":-56.1},{"t":42.35,"g":-65.8},{"t":42.65,"g":-62.4},
      {"t":42.96,"g":-58.6},{"t":43.17,"g":-62.8},{"t":43.37,"g":-63.3},{"t":43.89,"g":-58.6},{"t":44.3,"g":-65.8},{"t":44.57,"g":-60.3},
      {"t":44.81,"g":-60.1},{"t":45.12,"g":-59.9},{"t":45.39,"g":-63.3},{"t":45.84,"g":-56.1},{"t":46.21,"g":-68.7},{"t":46.63,"g":-56.3},
      {"t":46.77,"g":-58.2},{"t":47.08,"g":-65.1},{"t":47.49,"g":-59.5},{"t":47.9,"g":-64.1},{"t":48.27,"g":-60.3},{"t":48.42,"g":-60.3},
      {"t":48.77,"g":-64.1},{"t":49.09,"g":-59.2},{"t":49.34,"g":-62.0},{"t":49.55,"g":-62.0},{"t":49.86,"g":-64.9},{"t":50.17,"g":-57.8},
      {"t":50.33,"g":-57.8},{"t":50.64,"g":-68.1},{"t":50.99,"g":-56.8},{"t":51.19,"g":-61.1},{"t":51.61,"g":-62.2},{"t":51.91,"g":-61.7},
      {"t":52.26,"g":-57.8},{"t":52.74,"g":-70.0},{"t":53.05,"g":-54.8},{"t":53.21,"g":-54.4},{"t":53.5,"g":-64.1},{"t":53.77,"g":-64.1},
      {"t":54.07,"g":-60.3},{"t":54.59,"g":-65.1},{"t":55.0,"g":-57.8},{"t":55.35,"g":-67.5},{"t":55.68,"g":-59.5},{"t":55.93,"g":-59.0},
      {"t":56.3,"g":-67.1},{"t":56.85,"g":-56.9},{"t":57.2,"g":-66.6},{"t":57.47,"g":-61.1},{"t":57.68,"g":-62.0},{"t":57.98,"g":-59.7},
      {"t":58.19,"g":-62.8},{"t":58.4,"g":-63.3},{"t":58.77,"g":-56.5},{"t":58.91,"g":-57.4},{"t":59.18,"g":-65.4},{"t":59.38,"g":-64.5},
      {"t":59.67,"g":-56.3},{"t":59.98,"g":-65.8}
    ]
  },
  "layer": [
    {
      "data": {"values": [{}]},
      "mark": {"type": "rect", "fill": "white", "stroke": "#7f7f7f", "strokeWidth": 1.3, "clip": false},
      "encoding": {
        "x": {"datum": -9.7, "type": "quantitative", "scale": {"domain": [-10, 70], "nice": false, "zero": false}, "axis": null},
        "x2": {"datum": 13.2},
        "y": {"datum": 123.5, "type": "quantitative", "scale": {"domain": [-100, 100], "nice": false, "zero": false}, "axis": null},
        "y2": {"datum": 82.05}
      }
    },
    {
      "data": {"values": [{}]},
      "mark": {"type": "rule", "color": "#c0c0c0", "strokeWidth": 3},
      "encoding": {
        "x": {"datum": -6.93, "type": "quantitative", "scale": {"domain": [-10, 70], "nice": false, "zero": false}, "axis": null},
        "y": {"datum": -20, "type": "quantitative", "scale": {"domain": [-100, 100], "nice": false, "zero": false}, "axis": null},
        "y2": {"datum": 20}
      }
    },
    {
      "data": {"values": [{"g": -20}, {"g": 20}]},
      "mark": {"type": "rule", "color": "#c0c0c0", "strokeWidth": 3},
      "encoding": {
        "x": {"datum": -7.35, "type": "quantitative", "scale": {"domain": [-10, 70], "nice": false, "zero": false}, "axis": null},
        "x2": {"datum": -6.5},
        "y": {"field": "g", "type": "quantitative", "scale": {"domain": [-100, 100], "nice": false, "zero": false}, "axis": null}
      }
    },
    {
      "data": {"values": [{}]},
      "mark": {"type": "point", "filled": true, "color": "black", "size": 55, "opacity": 1},
      "encoding": {
        "x": {"datum": -6.93, "type": "quantitative", "scale": {"domain": [-10, 70], "nice": false, "zero": false}, "axis": null},
        "y": {"datum": 0, "type": "quantitative", "scale": {"domain": [-100, 100], "nice": false, "zero": false}, "axis": null}
      }
    },
    {
      "data": {"values": [{"label": "Typical noise level"}]},
      "mark": {"type": "text", "angle": 270, "align": "center", "baseline": "alphabetic", "fontSize": 24, "font": "Liberation Sans", "color": "black", "clip": false},
      "encoding": {
        "x": {"datum": -5.0, "type": "quantitative", "scale": {"domain": [-10, 70], "nice": false, "zero": false}, "axis": null},
        "y": {"datum": 0, "type": "quantitative", "scale": {"domain": [-100, 100], "nice": false, "zero": false}, "axis": null},
        "text": {"field": "label"}
      }
    },
    {
      "data": {"values": [{}]},
      "mark": {"type": "rule", "color": "#5fbfbf", "strokeWidth": 1.4, "clip": false},
      "encoding": {
        "x": {"datum": 0, "type": "quantitative", "scale": {"domain": [-10, 70], "nice": false, "zero": false}, "axis": null},
        "x2": {"datum": 64.1},
        "y": {"datum": 50, "type": "quantitative", "scale": {"domain": [-100, 100], "nice": false, "zero": false}, "axis": null}
      }
    },
    {
      "data": {"values": [{}]},
      "mark": {"type": "rule", "color": "#5fbfbf", "strokeWidth": 1.4},
      "encoding": {
        "x": {"datum": 63.1, "type": "quantitative", "scale": {"domain": [-10, 70], "nice": false, "zero": false}, "axis": null},
        "y": {"datum": 0, "type": "quantitative", "scale": {"domain": [-100, 100], "nice": false, "zero": false}, "axis": null},
        "y2": {"datum": 100}
      }
    },
    {
      "data": {"values": [{"g": 0}, {"g": 100}]},
      "mark": {"type": "rule", "color": "#5fbfbf", "strokeWidth": 1.4},
      "encoding": {
        "x": {"datum": 62.1, "type": "quantitative", "scale": {"domain": [-10, 70], "nice": false, "zero": false}, "axis": null},
        "x2": {"datum": 64.1},
        "y": {"field": "g", "type": "quantitative", "scale": {"domain": [-100, 100], "nice": false, "zero": false}, "axis": null}
      }
    },
    {
      "data": {"values": [{"g": 10}, {"g": 20}, {"g": 30}, {"g": 40}, {"g": 50}, {"g": 60}, {"g": 70}, {"g": 80}, {"g": 90}]},
      "mark": {"type": "rule", "color": "#5fbfbf", "strokeWidth": 1.3},
      "encoding": {
        "x": {"datum": 63.1, "type": "quantitative", "scale": {"domain": [-10, 70], "nice": false, "zero": false}, "axis": null},
        "x2": {"datum": 63.6},
        "y": {"field": "g", "type": "quantitative", "scale": {"domain": [-100, 100], "nice": false, "zero": false}, "axis": null}
      }
    },
    {
      "data": {"values": [{"label": "1 DIV = 0.5 hPa/h"}]},
      "mark": {"type": "text", "angle": 270, "align": "center", "baseline": "alphabetic", "fontSize": 24, "font": "Liberation Sans", "color": "black", "clip": false},
      "encoding": {
        "x": {"datum": 65.68, "type": "quantitative", "scale": {"domain": [-10, 70], "nice": false, "zero": false}, "axis": null},
        "y": {"datum": 50, "type": "quantitative", "scale": {"domain": [-100, 100], "nice": false, "zero": false}, "axis": null},
        "text": {"field": "label"}
      }
    },
    {
      "data": {"values": [{"label": "average = -0.8336"}]},
      "mark": {"type": "text", "angle": 270, "align": "center", "baseline": "alphabetic", "fontSize": 24, "font": "Liberation Sans", "color": "black", "clip": false},
      "encoding": {
        "x": {"datum": 68.07, "type": "quantitative", "scale": {"domain": [-10, 70], "nice": false, "zero": false}, "axis": null},
        "y": {"datum": 50, "type": "quantitative", "scale": {"domain": [-100, 100], "nice": false, "zero": false}, "axis": null},
        "text": {"field": "label"}
      }
    },
    {
      "data": {"name": "dpdt"},
      "mark": {"type": "line", "strokeWidth": 2.5, "interpolate": "monotone"},
      "encoding": {
        "x": {"field": "t", "type": "quantitative", "scale": {"domain": [-10, 70], "nice": false, "zero": false}, "axis": null},
        "y": {"field": "g", "type": "quantitative", "scale": {"domain": [-100, 100], "nice": false, "zero": false}, "axis": null},
        "detail": {"field": "seg", "type": "nominal"},
        "color": {"datum": "dP/dt low-passed", "type": "nominal"}
      }
    },
    {
      "data": {"name": "residual"},
      "mark": {"type": "line", "strokeWidth": 1.1},
      "encoding": {
        "x": {
          "field": "t", "type": "quantitative",
          "scale": {"domain": [-10, 70], "nice": false, "zero": false},
          "axis": {
            "orient": "bottom",
            "values": [-10,-9,-8,-7,-6,-5,-4,-3,-2,-1,0,1,2,3,4,5,6,7,8,9,10,11,12,13,14,15,16,17,18,19,20,21,22,23,24,25,26,27,28,29,30,31,32,33,34,35,36,37,38,39,40,41,42,43,44,45,46,47,48,49,50,51,52,53,54,55,56,57,58,59,60,61,62,63,64,65,66,67,68,69,70],
            "labelExpr": "datum.value % 10 === 0 ? '' + datum.value : ''",
            "tickSize": {"condition": {"test": "datum.value % 10 === 0", "value": 10}, "value": 5.7},
            "labelPadding": 10,
            "title": "Time [min] from 2026-08-09 13:01:00 UTC",
            "titleFontSize": 48,
            "titlePadding": 19
          }
        },
        "y": {
          "field": "g", "type": "quantitative",
          "scale": {"domain": [-100, 100], "nice": false, "zero": false},
          "axis": {
            "orient": "left",
            "values": [-100,-90,-80,-70,-60,-50,-40,-30,-20,-10,0,10,20,30,40,50,60,70,80,90,100],
            "labelExpr": "datum.value % 20 === 0 ? '' + datum.value : ''",
            "tickSize": {"condition": {"test": "datum.value % 20 === 0", "value": 9}, "value": 5},
            "labelPadding": 12,
            "title": null
          }
        },
        "detail": {"field": "seg", "type": "nominal"},
        "color": {
          "datum": "Residual", "type": "nominal",
          "scale": {
            "domain": ["Pressure", "dP/dt low-passed", "Residual", "... last 10 min.", "Theor.Tide"],
            "range": ["#0000ff", "#00c6c6", "#000000", "#c0c0c0", "#ff0000"]
          },
          "legend": {
            "orient": "none",
            "legendX": 20,
            "legendY": -83,
            "title": null,
            "padding": 0,
            "labelFont": "Liberation Sans",
            "labelFontSize": 24,
            "labelColor": "black",
            "labelLimit": 400,
            "symbolSize": 484,
            "rowPadding": 6.4,
            "symbolOffset": 39,
            "labelOffset": 35,
            "symbolType": "M-2.5,0L2.5,0",
            "encode": {
              "symbols": {
                "update": {
                  "shape": {"signal": "datum.value === 'Residual' || datum.value === '... last 10 min.' ? 'M-2.5,0L2.5,0' : 'M-2.5,0L2.5,0M0.36,0A0.36,0.36,0,1,1,-0.36,0A0.36,0.36,0,1,1,0.36,0Z'"},
                  "fill": {"scale": "color", "field": "value"},
                  "stroke": {"scale": "color", "field": "value"},
                  "strokeWidth": {"signal": "datum.value === 'Residual' ? 2.3 : datum.value === '... last 10 min.' ? 2.8 : 1"},
                  "opacity": {"value": 1},
                  "fillOpacity": {"value": 1},
                  "strokeOpacity": {"value": 1}
                }
              }
            }
          }
        }
      }
    },
    {
      "data": {"name": "smooth"},
      "mark": {"type": "line", "strokeWidth": 2.4, "color": "#c9c900"},
      "encoding": {
        "x": {"field": "t", "type": "quantitative", "scale": {"domain": [-10, 70], "nice": false, "zero": false}, "axis": null},
        "y": {"field": "g", "type": "quantitative", "scale": {"domain": [-100, 100], "nice": false, "zero": false}, "axis": null},
        "detail": {"field": "seg", "type": "nominal"}
      }
    },
    {
      "data": {"name": "last10"},
      "mark": {"type": "line", "strokeWidth": 2.4, "interpolate": "monotone"},
      "encoding": {
        "x": {"field": "t", "type": "quantitative", "scale": {"domain": [-10, 70], "nice": false, "zero": false}, "axis": null},
        "y": {"field": "g", "type": "quantitative", "scale": {"domain": [-100, 100], "nice": false, "zero": false}, "axis": null},
        "color": {"datum": "... last 10 min.", "type": "nominal"}
      }
    },
    {
      "data": {"values": [{}]},
      "mark": {"type": "rule", "color": "#c0c0c0", "strokeWidth": 3.3},
      "encoding": {
        "x": {"datum": 50.06, "type": "quantitative", "scale": {"domain": [-10, 70], "nice": false, "zero": false}, "axis": null},
        "x2": {"datum": 60.04},
        "y": {"datum": -33.3, "type": "quantitative", "scale": {"domain": [-100, 100], "nice": false, "zero": false}, "axis": null}
      }
    },
    {
      "data": {"values": [{"t": 50.06}, {"t": 60.04}]},
      "mark": {"type": "rule", "color": "#c0c0c0", "strokeWidth": 3.3},
      "encoding": {
        "x": {"field": "t", "type": "quantitative", "scale": {"domain": [-10, 70], "nice": false, "zero": false}, "axis": null},
        "y": {"datum": -35.0, "type": "quantitative", "scale": {"domain": [-100, 100], "nice": false, "zero": false}, "axis": null},
        "y2": {"datum": -31.6}
      }
    },
    {
      "data": {"values": [{"label": "The latest 1-hour, 1-second sampling"}]},
      "mark": {"type": "text", "align": "left", "baseline": "alphabetic", "fontSize": 28, "fontWeight": "bold", "font": "Liberation Sans", "color": "black"},
      "encoding": {
        "x": {"datum": -8.15, "type": "quantitative", "scale": {"domain": [-10, 70], "nice": false, "zero": false}, "axis": null},
        "y": {"datum": -96.5, "type": "quantitative", "scale": {"domain": [-100, 100], "nice": false, "zero": false}, "axis": null},
        "text": {"field": "label"}
      }
    },
    {
      "data": {"values": [{"label": "End at 2026-08-09 14:00:59 UTC"}]},
      "mark": {"type": "text", "align": "right", "baseline": "alphabetic", "fontSize": 27.7, "fontWeight": "bold", "font": "Liberation Sans", "color": "black"},
      "encoding": {
        "x": {"datum": 68.25, "type": "quantitative", "scale": {"domain": [-10, 70], "nice": false, "zero": false}, "axis": null},
        "y": {"datum": -96.5, "type": "quantitative", "scale": {"domain": [-100, 100], "nice": false, "zero": false}, "axis": null},
        "text": {"field": "label"}
      }
    },
    {
      "data": {"values": [{"label": "SCG_054 gravimeter Onsala Space Observatory, Sweden"}]},
      "mark": {"type": "text", "align": "right", "baseline": "alphabetic", "fontSize": 32.3, "fontWeight": "bold", "font": "Liberation Sans", "color": "black", "clip": false},
      "encoding": {
        "x": {"datum": 68.45, "type": "quantitative", "scale": {"domain": [-10, 70], "nice": false, "zero": false}, "axis": null},
        "y": {"datum": 107.5, "type": "quantitative", "scale": {"domain": [-100, 100], "nice": false, "zero": false}, "axis": null},
        "text": {"field": "label"}
      }
    },
    {
      "data": {"values": [{"label": "Obs’d Gravity [nm/s²]"}]},
      "mark": {"type": "text", "angle": 270, "align": "center", "baseline": "alphabetic", "fontSize": 48, "font": "Liberation Sans", "color": "black", "clip": false},
      "encoding": {
        "x": {"datum": -16.36, "type": "quantitative", "scale": {"domain": [-10, 70], "nice": false, "zero": false}, "axis": null},
        "y": {"datum": 0, "type": "quantitative", "scale": {"domain": [-100, 100], "nice": false, "zero": false}, "axis": null},
        "text": {"field": "label"}
      }
    },
    {
      "data": {"values": [{"label": "Pressure [hPa]"}]},
      "mark": {"type": "text", "angle": 270, "align": "center", "baseline": "alphabetic", "fontSize": 48, "font": "Liberation Sans", "color": "black", "clip": false},
      "encoding": {
        "x": {"datum": 79.0, "type": "quantitative", "scale": {"domain": [-10, 70], "nice": false, "zero": false}, "axis": null},
        "y": {"datum": 50, "type": "quantitative", "scale": {"domain": [-100, 100], "nice": false, "zero": false}, "axis": null},
        "text": {"field": "label"}
      }
    },
    {
      "data": {"values": [{"label": "Tide [nm/s²]"}]},
      "mark": {"type": "text", "angle": 270, "align": "center", "baseline": "alphabetic", "fontSize": 48, "font": "Liberation Sans", "color": "black", "clip": false},
      "encoding": {
        "x": {"datum": 79.5, "type": "quantitative", "scale": {"domain": [-10, 70], "nice": false, "zero": false}, "axis": null},
        "y": {"datum": -50, "type": "quantitative", "scale": {"domain": [-100, 100], "nice": false, "zero": false}, "axis": null},
        "text": {"field": "label"}
      }
    },
    {
      "data": {"name": "pressure"},
      "mark": {"type": "point", "filled": true, "size": 36, "opacity": 1},
      "encoding": {
        "x": {
          "field": "t", "type": "quantitative",
          "scale": {"domain": [-10, 70], "nice": false, "zero": false},
          "axis": {
            "orient": "top",
            "values": [-10,-9,-8,-7,-6,-5,-4,-3,-2,-1,0,1,2,3,4,5,6,7,8,9,10,11,12,13,14,15,16,17,18,19,20,21,22,23,24,25,26,27,28,29,30,31,32,33,34,35,36,37,38,39,40,41,42,43,44,45,46,47,48,49,50,51,52,53,54,55,56,57,58,59,60,61,62,63,64,65,66,67,68,69,70],
            "labels": false,
            "tickSize": {"condition": {"test": "datum.value % 10 === 0", "value": 10.7}, "value": 5.7},
            "title": null
          }
        },
        "y": {
          "field": "p", "type": "quantitative",
          "scale": {"domain": [996, 1016], "nice": false, "zero": false},
          "axis": {
            "orient": "right",
            "values": [1007, 1008, 1009, 1010, 1011, 1012, 1013, 1014, 1015],
            "labelExpr": "datum.value % 2 === 0 ? '' + datum.value : ''",
            "tickSize": {"condition": {"test": "datum.value % 2 === 0", "value": 11.5}, "value": 6.5},
            "labelPadding": 12,
            "title": null
          }
        },
        "color": {"datum": "Pressure", "type": "nominal"}
      }
    },
    {
      "data": {"name": "tide"},
      "mark": {"type": "line", "strokeWidth": 4.5},
      "encoding": {
        "x": {"field": "t", "type": "quantitative", "scale": {"domain": [-10, 70], "nice": false, "zero": false}, "axis": null},
        "y": {
          "field": "tide", "type": "quantitative",
          "scale": {"domain": [-1500, 4500], "nice": false, "zero": false},
          "axis": {
            "orient": "right",
            "values": [-1500,-1400,-1300,-1200,-1100,-1000,-900,-800,-700,-600,-500,-400,-300,-200,-100,0,100,200,300,400,500,600,700,800,900,1000,1100,1200,1300,1400],
            "labelExpr": "datum.value % 500 === 0 ? '' + datum.value : ''",
            "tickSize": {"condition": {"test": "datum.value % 500 === 0", "value": 11.7}, "value": 6},
            "labelAlign": "right",
            "labelPadding": 80,
            "title": null
          }
        },
        "color": {"datum": "Theor.Tide", "type": "nominal"}
      }
    }
  ],
  "resolve": {"scale": {"y": "independent"}, "axis": {"x": "independent", "y": "independent"}}
}
